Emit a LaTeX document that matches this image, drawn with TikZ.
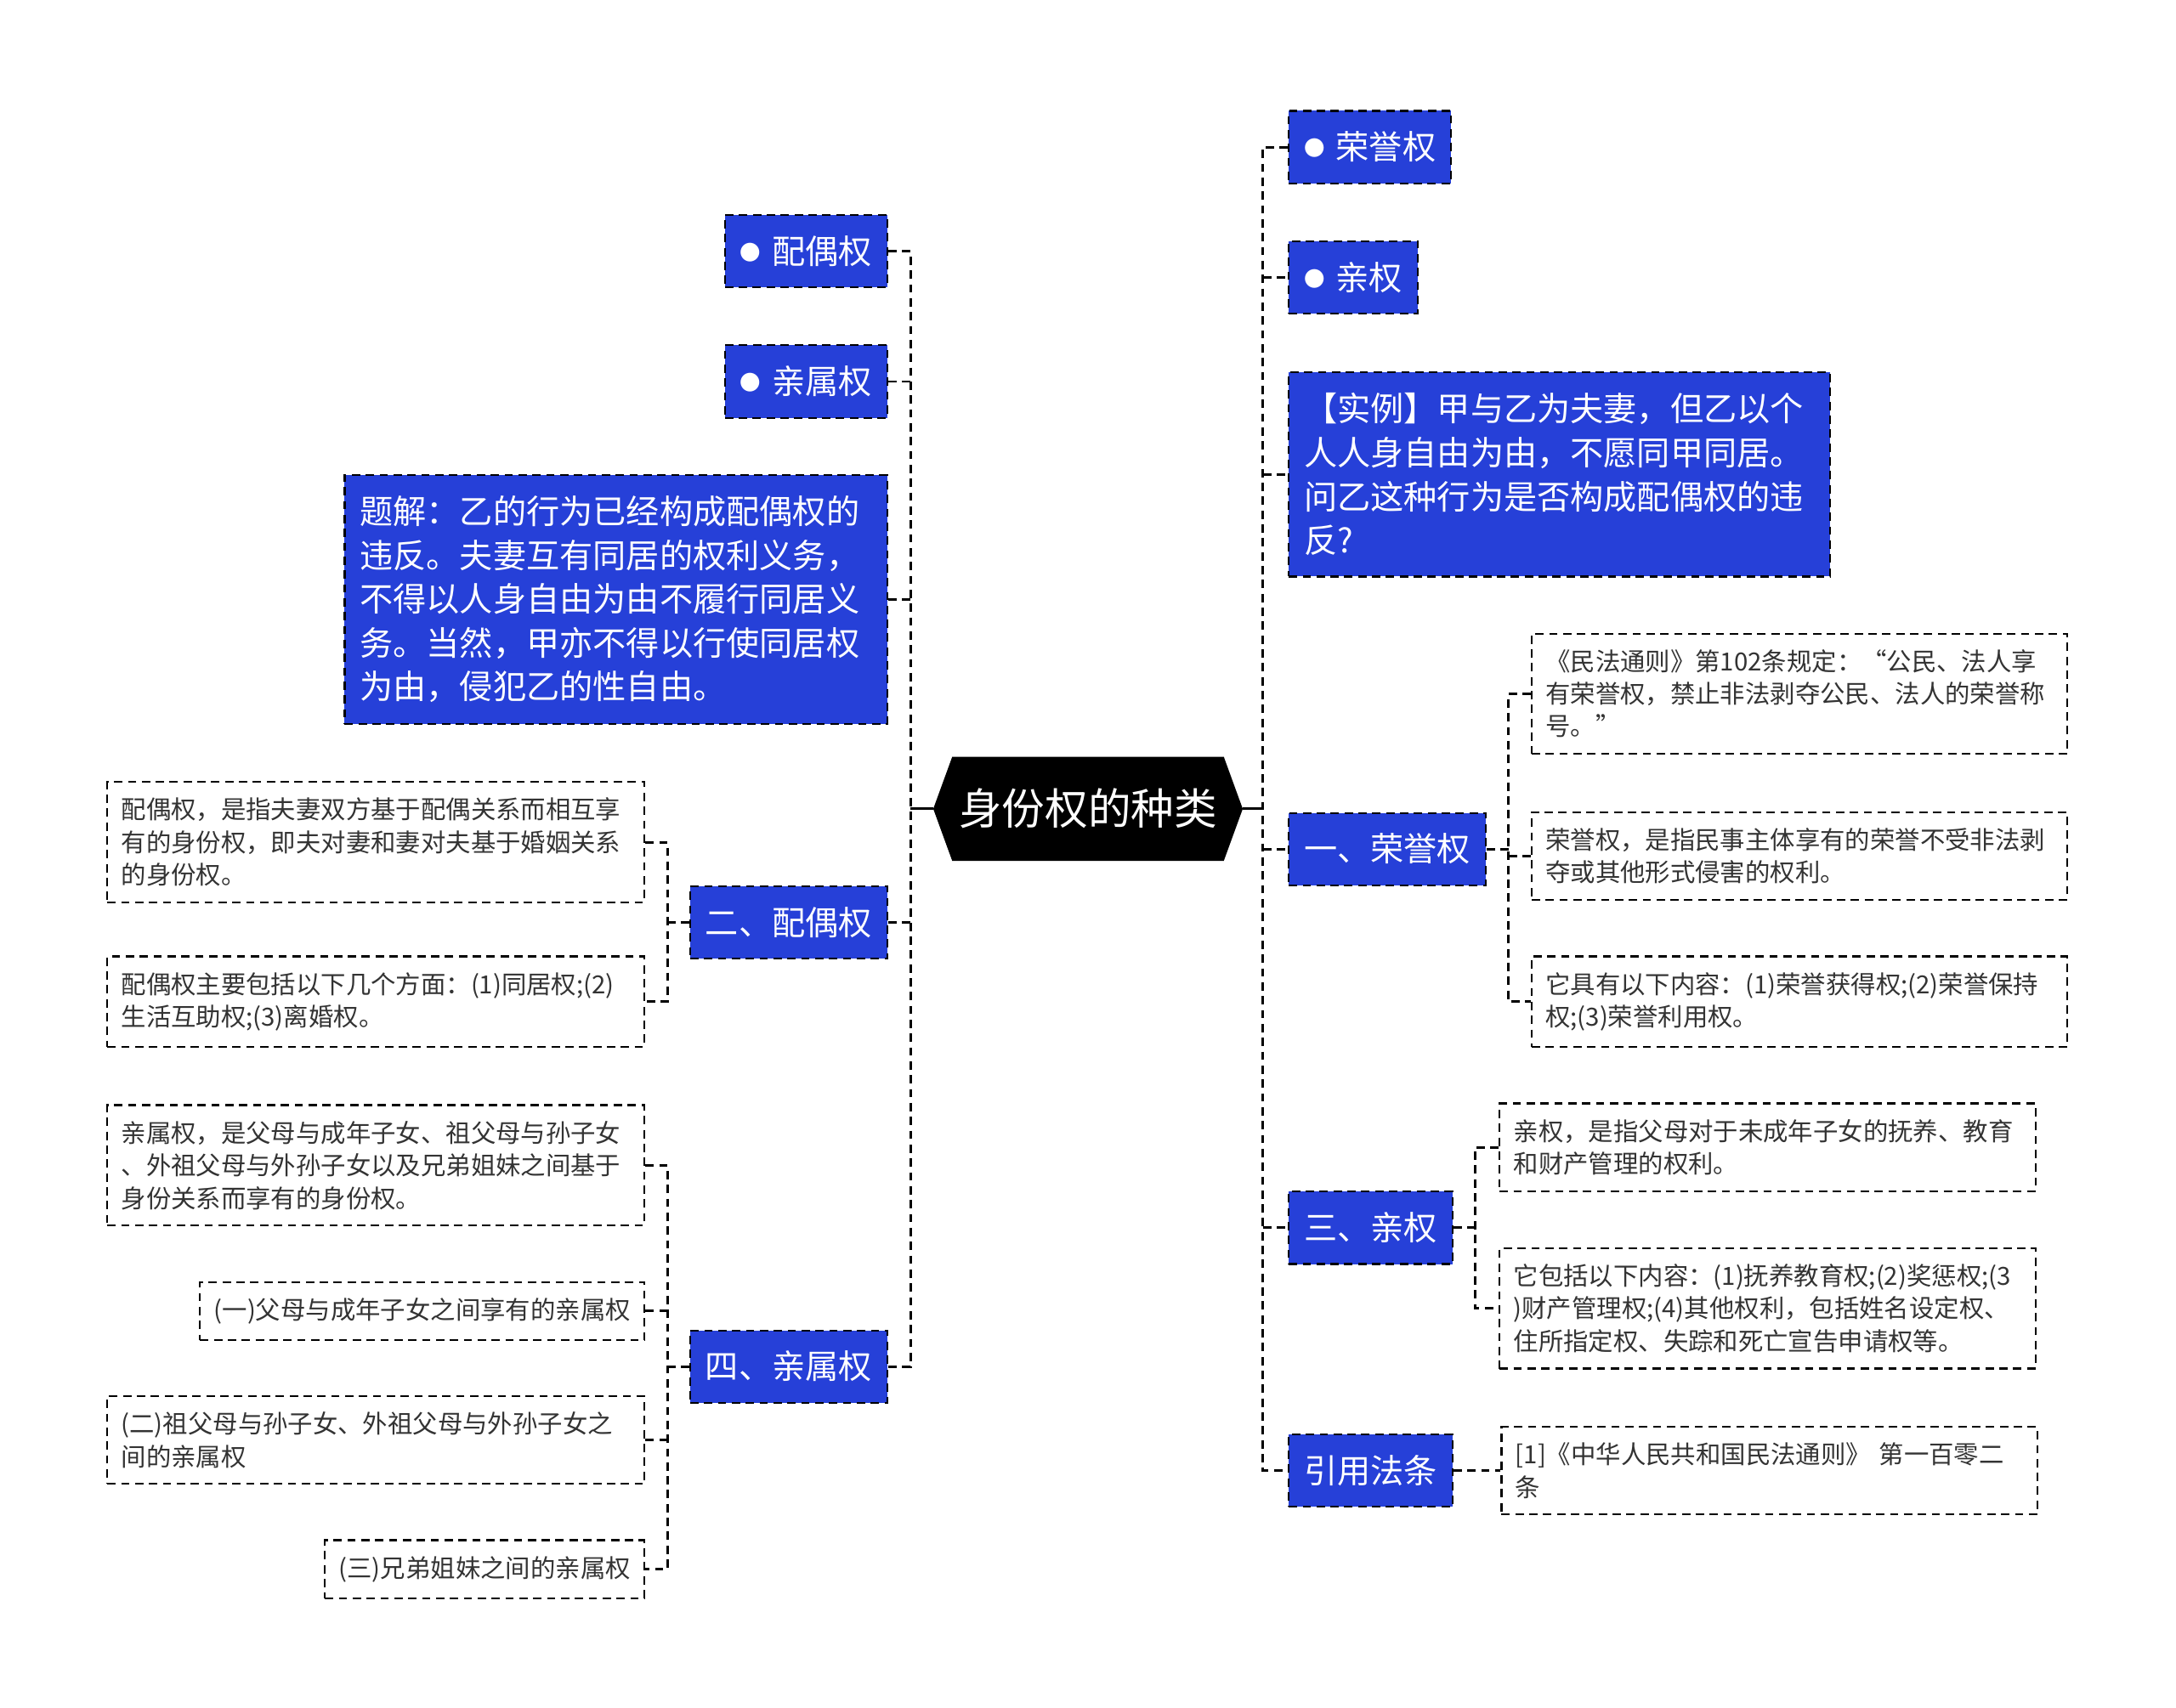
\documentclass[tikz,border=0pt]{standalone}
\usepackage{fontspec}
\setmainfont{Noto Sans CJK SC}
\usepackage{tikz}
\usetikzlibrary{positioning, shapes.symbols}
\definecolor{mapblue}{RGB}{38, 64, 216}
\definecolor{notegray}{RGB}{51, 51, 51}
\newcommand{\dotmark}{\raisebox{2.5pt}{\fontsize{15}{15}\selectfont●}\hspace{8pt}}

\begin{document}
\begin{tikzpicture}[
    x=1pt, y=-1pt,
    hub/.style={signal, signal to=west and east, signal pointer angle=140, fill=black, text=white, font=\fontsize{31}{36}\selectfont, minimum height=75pt, minimum width=223pt, inner xsep=0pt},
    topic/.style={rectangle, draw=black, line width=1.3pt, dash pattern=on 6pt off 4pt, fill=mapblue, text=white, font=\fontsize{24}{31.6}\selectfont, inner xsep=11pt, inner ysep=15pt, align=left},
    note/.style={rectangle, draw=black, line width=1.3pt, dash pattern=on 6pt off 4pt, fill=white, text=notegray, font=\fontsize{18}{23.5}\selectfont, inner xsep=10pt, inner ysep=11.5pt, align=left},
    link/.style={black, line width=1.8pt, dash pattern=on 6pt off 4pt},
    trunk/.style={black, line width=2pt}
]
    \useasboundingbox (0,0) rectangle (1568,1231);

    % Root
    \node[hub] (root) at (784,583) {身份权的种类};
    \coordinate (ls) at (656,583);
    \coordinate (rs) at (910,583);

    % Right branch
    \node[topic, anchor=west] (rongyu) at (928,106) {\dotmark 荣誉权};
    \node[topic, anchor=west] (qinquan) at (928,200) {\dotmark 亲权};
    \node[topic, anchor=west, text width=368pt] (shili) at (928,342) {【实例】甲与乙为夫妻，但乙以个\\人人身自由为由，不愿同甲同居。\\问乙这种行为是否构成配偶权的违\\反?};
    \node[topic, anchor=west] (ry) at (928,612) {一、荣誉权};
    \node[topic, anchor=west] (qq) at (928,885) {三、亲权};
    \node[topic, anchor=west] (yy) at (928,1060) {引用法条};

    % Left branch
    \node[topic, anchor=east] (peiou) at (640,181) {\dotmark 配偶权};
    \node[topic, anchor=east] (qinshu) at (640,275) {\dotmark 亲属权};
    \node[topic, anchor=east, text width=369pt] (tijie) at (640,432) {题解：乙的行为已经构成配偶权的\\违反。夫妻互有同居的权利义务，\\不得以人身自由为由不履行同居义\\务。当然，甲亦不得以行使同居权\\为由，侵犯乙的性自由。};
    \node[topic, anchor=east] (po) at (640,665) {二、配偶权};
    \node[topic, anchor=east] (qs) at (640,985) {四、亲属权};

    % Notes of 一、荣誉权
    \node[note, anchor=west, text width=366pt] (ryA) at (1103,500) {《民法通则》第102条规定：“公民、法人享\\有荣誉权，禁止非法剥夺公民、法人的荣誉称\\号。”};
    \node[note, anchor=west, text width=366pt] (ryB) at (1103,617) {荣誉权，是指民事主体享有的荣誉不受非法剥\\夺或其他形式侵害的权利。};
    \node[note, anchor=west, text width=366pt] (ryC) at (1103,722) {它具有以下内容：(1)荣誉获得权;(2)荣誉保持\\权;(3)荣誉利用权。};

    % Notes of 三、亲权 and 引用法条
    \node[note, anchor=west, text width=366pt] (qqA) at (1080,827) {亲权，是指父母对于未成年子女的抚养、教育\\和财产管理的权利。};
    \node[note, anchor=west, text width=366pt] (qqB) at (1080,943) {它包括以下内容：(1)抚养教育权;(2)奖惩权;(3\\)财产管理权;(4)其他权利，包括姓名设定权、\\住所指定权、失踪和死亡宣告申请权等。};
    \node[note, text width=366pt, right=34pt of yy] (yyA) {[1]《中华人民共和国民法通则》 第一百零二\\条};

    % Notes of 二、配偶权
    \node[note, anchor=east, text width=367pt] (poA) at (465,607) {配偶权，是指夫妻双方基于配偶关系而相互享\\有的身份权，即夫对妻和妻对夫基于婚姻关系\\的身份权。};
    \node[note, anchor=east, text width=367pt] (poB) at (465,722) {配偶权主要包括以下几个方面：(1)同居权;(2)\\生活互助权;(3)离婚权。};

    % Notes of 四、亲属权
    \node[note, anchor=east, text width=367pt] (qsA) at (465,840) {亲属权，是父母与成年子女、祖父母与孙子女\\、外祖父母与外孙子女以及兄弟姐妹之间基于\\身份关系而享有的身份权。};
    \node[note, anchor=east] (qsB) at (465,945) {(一)父母与成年子女之间享有的亲属权};
    \node[note, anchor=east, text width=367pt] (qsC) at (465,1038) {(二)祖父母与孙子女、外祖父母与外孙子女之\\间的亲属权};
    \node[note, anchor=east] (qsD) at (465,1131) {(三)兄弟姐妹之间的亲属权};

    % Trunk
    \draw[trunk] (root.west) -- (ls);
    \draw[trunk] (root.east) -- (rs);

    % Right spine
    \draw[link] (rongyu.west) -| (rs) |- (yy.west);
    \draw[link] (rs |- qinquan.west) -- (qinquan.west);
    \draw[link] (rs |- shili.west) -- (shili.west);
    \draw[link] (rs |- ry.west) -- (ry.west);
    \draw[link] (rs |- qq.west) -- (qq.west);

    % Left spine
    \draw[link] (peiou.east) -| (ls) |- (qs.east);
    \draw[link] (ls |- qinshu.east) -- (qinshu.east);
    \draw[link] (ls |- tijie.east) -- (tijie.east);
    \draw[link] (ls |- po.east) -- (po.east);

    % Sub-branches
    \coordinate (ryb) at (1087,612);
    \draw[link] (ry.east) -- (ryb);
    \draw[link] (ryA.west) -| (ryb) |- (ryC.west);
    \draw[link] (ryb |- ryB.west) -- (ryB.west);

    \coordinate (qqb) at (1063,885);
    \draw[link] (qq.east) -- (qqb);
    \draw[link] (qqA.west) -| (qqb) |- (qqB.west);
    \draw[link] (yy.east) -- (yyA.west);

    \coordinate (pob) at (481,665);
    \draw[link] (po.west) -- (pob);
    \draw[link] (poA.east) -| (pob) |- (poB.east);

    \coordinate (qsb) at (481,985);
    \draw[link] (qs.west) -- (qsb);
    \draw[link] (qsA.east) -| (qsb) |- (qsD.east);
    \draw[link] (qsb |- qsB.east) -- (qsB.east);
    \draw[link] (qsb |- qsC.east) -- (qsC.east);
\end{tikzpicture}
\end{document}
